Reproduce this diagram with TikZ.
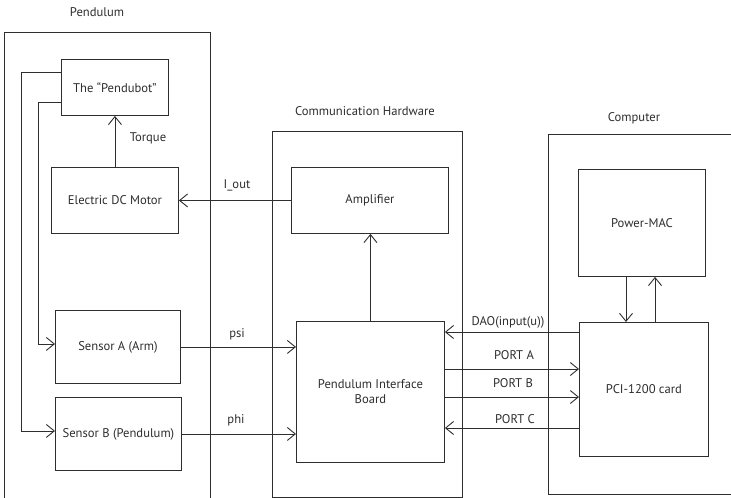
\documentclass[tikz,border=0pt]{standalone}
\usepackage{fontspec}
\setmainfont{PT Sans}
\usetikzlibrary{arrows.meta}
\definecolor{ink}{HTML}{2E2E2E}
\begin{document}
\begin{tikzpicture}[x=1pt,y=-1pt,
  line width=0.9pt, draw=ink,
  box/.style={draw=ink, line width=0.9pt, anchor=north west, inner sep=0pt, align=center, font=\fontsize{12.6}{15}\selectfont, text=ink},
  lbl/.style={font=\fontsize{12.6}{15}\selectfont, text=ink, inner sep=0pt},
  arr/.style={draw=ink, line width=0.9pt, -{Straight Barb[length=8pt,width=13pt,line width=0.9pt]}},
  ln/.style={draw=ink, line width=0.9pt}]
\useasboundingbox (0,0) rectangle (731,498);
\fill[white] (0,0) rectangle (731,498);
% outer boxes
\draw[ln] (4,498) -- (4,32) -- (210,32) -- (210,498);
\draw[ln] (272,131) rectangle (462,497);
\draw[ln] (731,494) -- (548,494) -- (548,134) -- (731,134);
% titles
\node[lbl] (tpend) at (97,12) {Pendulum};
\node[lbl] (tcomm) at (365,111) {Communication Hardware};
\node[lbl] (tcomp) at (634,118) {Computer};
% inner boxes
\node[box, minimum width=107pt, minimum height=56pt] (pendubot) at (61,59) {The “Pendubot”};
\node[box, minimum width=127pt, minimum height=66pt] (motor) at (51,167) {Electric DC Motor};
\node[box, minimum width=125pt, minimum height=73pt] (sensA) at (55,310) {Sensor A (Arm)};
\node[box, minimum width=126pt, minimum height=73pt] (sensB) at (55,397) {Sensor B (Pendulum)};
\node[box, minimum width=157pt, minimum height=66pt] (amp) at (291,167) {Amplifier};
\node[box, minimum width=148pt, minimum height=141pt] (pib) at (296,321) {Pendulum Interface\\Board};
\node[box, minimum width=127pt, minimum height=107pt] (pmac) at (578,169) {Power-MAC};
\node[box, minimum width=129pt, minimum height=134pt] (pci) at (579,322) {PCI-1200 card};
% connectors inside Pendulum
\draw[arr] (motor.north) -- (pendubot.south);
\node[lbl] (ltorque) at (148,138) {Torque};
\draw[arr] ([yshift=15pt]pendubot.west) -- ++(-40,0) |- ([yshift=3pt]sensB.west);
\draw[arr] ([yshift=-15pt]pendubot.west) -- ++(-23,0) |- ([yshift=3pt]sensA.west);
% Pendulum <-> Communication
\draw[arr] (amp.west) -- (motor.east);
\node[lbl] (liout) at (237,185) {I\_out};
\draw[arr] (sensA.east) -- (sensA.east -| pib.west);
\node[lbl] (lpsi) at (237,334) {psi};
\draw[arr] (sensB.east) -- (sensB.east -| pib.west);
\node[lbl] (lphi) at (236,420) {phi};
\draw[arr] (pib.north) -- (pib.north |- amp.south);
% Communication <-> Computer
\coordinate (dao) at (579,332);
\coordinate (pa) at (444,369);
\coordinate (pb) at (444,397);
\coordinate (pc) at (579,428);
\draw[arr] (dao) -- (dao -| pib.east);
\node[lbl] (ldao) at (508,322) {DAO(input(u))};
\draw[arr] (pa) -- (pa -| pci.west);
\node[lbl] (lpa) at (514,355) {PORT A};
\draw[arr] (pb) -- (pb -| pci.west);
\node[lbl] (lpb) at (513,383) {PORT B};
\draw[arr] (pc) -- (pc -| pib.east);
\node[lbl] (lpc) at (515,419) {PORT C};
% Power-MAC <-> PCI
\coordinate (dn) at (626,276);
\coordinate (up) at (655,322);
\draw[arr] (dn) -- (dn |- pci.north);
\draw[arr] (up) -- (up |- pmac.south);
\end{tikzpicture}
\end{document}
